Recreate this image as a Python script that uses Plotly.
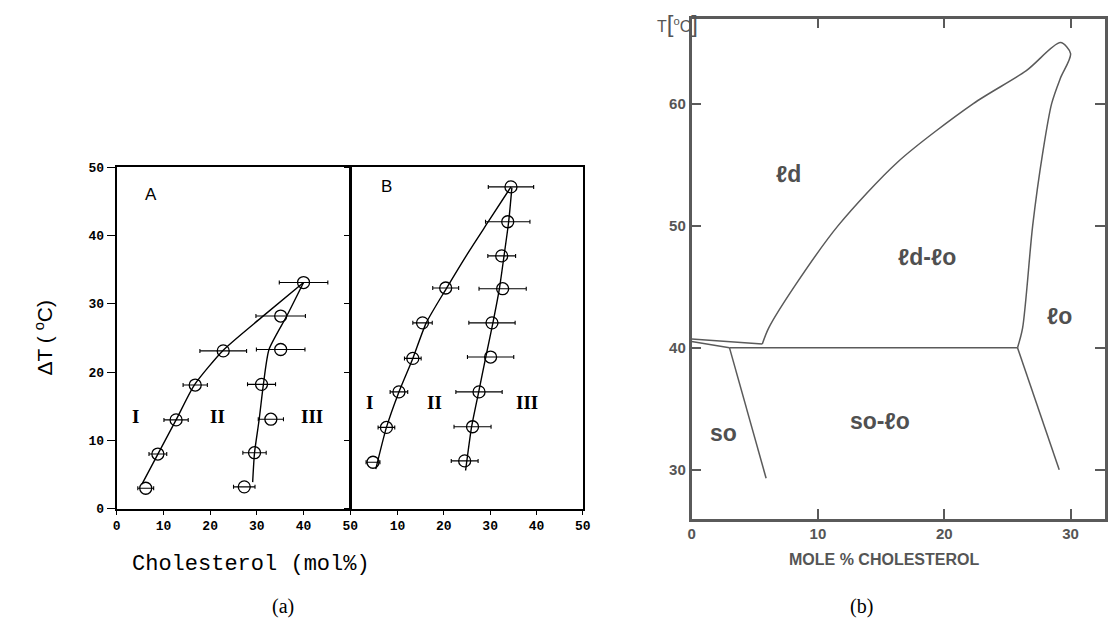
import plotly.graph_objects as go

# ---------------- Panel (a) A ----------------
a_left_x = [6.2, 8.8, 12.7, 16.8, 22.8, 40.0]
a_left_y = [3.0, 8.0, 13.0, 18.1, 23.1, 33.1]
a_left_err = [1.7, 1.9, 2.6, 2.6, 5.0, 5.2]
a_right_x = [27.3, 29.5, 33.0, 31.0, 35.1, 35.1]
a_right_y = [3.2, 8.2, 13.1, 18.2, 23.3, 28.2]
a_right_err = [2.3, 2.5, 2.7, 3.0, 5.2, 5.3]
a_left_line_x = [5.4, 8.8, 12.7, 16.6, 22.8, 31.0, 40.0]
a_left_line_y = [3.6, 8.0, 13.0, 18.1, 23.2, 28.0, 33.1]
a_right_line_x = [29.1, 29.5, 30.5, 31.4, 32.6, 36.4, 40.0]
a_right_line_y = [3.9, 8.2, 13.1, 18.2, 23.3, 28.2, 33.1]

# ---------------- Panel (a) B ----------------
b_left_x = [4.7, 7.6, 10.3, 13.3, 15.4, 20.4, 34.5]
b_left_y = [6.8, 11.9, 17.1, 22.0, 27.2, 32.3, 47.1]
b_left_err = [1.5, 1.8, 1.9, 1.8, 2.1, 2.8, 4.9]
b_right_x = [24.5, 26.2, 27.6, 30.1, 30.4, 32.7, 32.5, 33.8]
b_right_y = [7.0, 12.0, 17.1, 22.2, 27.2, 32.2, 37.0, 42.0]
b_right_err = [2.9, 4.0, 5.0, 5.0, 5.0, 5.1, 3.0, 4.8]
b_left_line_x = [5.3, 7.6, 10.3, 13.3, 16.2, 20.6, 25.0, 29.6, 34.5]
b_left_line_y = [5.8, 11.9, 17.1, 22.0, 27.2, 32.3, 37.2, 42.0, 47.1]
b_right_line_x = [24.7, 26.0, 27.5, 29.0, 30.6, 32.0, 33.0, 34.0, 34.7]
b_right_line_y = [5.6, 12.0, 17.0, 22.0, 27.2, 32.2, 37.0, 42.0, 47.0]

# ---------------- Panel (b) phase diagram ----------------
loop_x = [5.6, 6.1, 8.2, 11.6, 16.3, 22.3, 26.5, 29.2, 30.0, 29.2, 28.5, 27.8, 27.0, 26.2, 25.8]
loop_y = [40.3, 41.6, 45.1, 50.0, 55.2, 60.0, 62.7, 65.0, 64.1, 62.1, 60.0, 56.0, 50.0, 41.6, 40.0]
wedge1_x = [0.0, 5.6]
wedge1_y = [40.7, 40.3]
wedge2_x = [0.0, 3.0]
wedge2_y = [40.5, 40.0]
tie_x = [3.0, 25.8]
tie_y = [40.0, 40.0]
so_x = [3.0, 5.9]
so_y = [40.0, 29.3]
lo_x = [25.8, 29.1]
lo_y = [40.0, 30.0]

BLACK = "black"
GRAY = "#5a5a5a"

fig = go.Figure()

def pts(x, y, err, xa, ya):
    fig.add_trace(go.Scatter(
        x=x, y=y, mode="markers", xaxis=xa, yaxis=ya,
        marker=dict(symbol="circle-open", size=12, color=BLACK, line=dict(width=1.3, color=BLACK)),
        error_x=dict(type="data", array=err, color=BLACK, thickness=1.1, width=2),
        showlegend=False, hoverinfo="skip"))

def curve(x, y, xa, ya, color=BLACK, w=1.4, shape="spline", sm=0.6):
    fig.add_trace(go.Scatter(
        x=x, y=y, mode="lines", xaxis=xa, yaxis=ya,
        line=dict(color=color, width=w, shape=shape, smoothing=sm),
        showlegend=False, hoverinfo="skip"))

curve(a_left_line_x, a_left_line_y, "x", "y")
curve(a_right_line_x, a_right_line_y, "x", "y")
pts(a_left_x, a_left_y, a_left_err, "x", "y")
pts(a_right_x, a_right_y, a_right_err, "x", "y")

curve(b_left_line_x, b_left_line_y, "x2", "y2")
curve(b_right_line_x, b_right_line_y, "x2", "y2")
pts(b_left_x, b_left_y, b_left_err, "x2", "y2")
pts(b_right_x, b_right_y, b_right_err, "x2", "y2")

curve(loop_x, loop_y, "x3", "y3", GRAY, 1.5, "spline", 0.8)
for xs, ys in [(wedge1_x, wedge1_y), (wedge2_x, wedge2_y), (tie_x, tie_y), (so_x, so_y), (lo_x, lo_y)]:
    curve(xs, ys, "x3", "y3", GRAY, 1.5, "linear")

W, H = 1120, 630
def fx(px):
    return min(1.0, max(0.0, px / W))
def fy(py):
    return min(1.0, max(0.0, 1 - py / H))
def dx(a, b):
    return [fx(a), fx(b)]
def dy(top, bot):
    return [fy(bot), fy(top)]

monofont = dict(family="Liberation Mono", size=13, color=BLACK)
ax_common = dict(showgrid=False, zeroline=False, showline=True, linecolor=BLACK, linewidth=2, mirror=True)
gtick = dict(family="Liberation Sans", size=15, color="#555555")

fig.update_layout(
    width=W, height=H, margin=dict(l=0, r=0, t=0, b=0),
    paper_bgcolor="white", plot_bgcolor="rgba(0,0,0,0)",
    xaxis=dict(domain=dx(114, 350), range=[0, 50], tickvals=[0, 10, 20, 30, 40, 50],
               ticktext=["<b>%d</b>" % v for v in [0, 10, 20, 30, 40, 50]],
               ticks="outside", ticklen=4, tickcolor=BLACK, tickfont=monofont, anchor="y", **ax_common),
    yaxis=dict(domain=dy(165, 515), range=[0, 50], tickvals=[0, 10, 20, 30, 40, 50],
               ticktext=["<b>%d</b>" % v for v in [0, 10, 20, 30, 40, 50]],
               ticks="outside", ticklen=8, tickcolor=BLACK, tickfont=monofont, anchor="x", **ax_common),
    xaxis2=dict(domain=dx(351, 585), range=[0, 50], tickvals=[10, 20, 30, 40, 50],
                ticktext=["<b>%d</b>" % v for v in [10, 20, 30, 40, 50]],
                ticks="outside", ticklen=4, tickcolor=BLACK, tickfont=monofont, anchor="y2", **ax_common),
    yaxis2=dict(domain=dy(165, 515), range=[0, 50], tickvals=[0, 10, 20, 30, 40, 50],
                ticks="outside", ticklen=5, tickcolor=BLACK, showticklabels=False, anchor="x2", **ax_common),
    xaxis3=dict(domain=dx(695, 1113), range=[0, 32.73], tickvals=[0, 10, 20, 30],
                ticktext=["<b>%d</b>" % v for v in [0, 10, 20, 30]],
                ticks="inside", ticklen=10, tickcolor=GRAY, tickwidth=1.5, tickfont=gtick,
                showgrid=False, zeroline=False, showline=True, linecolor=GRAY, linewidth=2.5,
                mirror="ticks", anchor="y3"),
    yaxis3=dict(domain=dy(13, 525), range=[26, 66.96], tickvals=[30, 40, 50, 60],
                ticktext=["<b>%d</b>" % v for v in [30, 40, 50, 60]],
                ticks="inside", ticklen=10, tickcolor=GRAY, tickwidth=1.5, tickfont=gtick,
                showgrid=False, zeroline=False, showline=True, linecolor=GRAY, linewidth=2.5,
                mirror="ticks", anchor="x3"),
)

ann = []
def A(text, x, y, xref, yref, font, **kw):
    ann.append(dict(text=text, x=x, y=y, xref=xref, yref=yref, showarrow=False, font=font,
                    xanchor="center", yanchor="middle", **kw))

serif_b = dict(family="Liberation Serif", size=19, color=BLACK)
A("<b>I</b>", 4.0, 13.5, "x", "y", serif_b)
A("<b>II</b>", 21.5, 13.5, "x", "y", serif_b)
A("<b>III</b>", 41.8, 13.5, "x", "y", serif_b)
A("<b>I</b>", 4.0, 15.5, "x2", "y2", serif_b)
A("<b>II</b>", 17.9, 15.5, "x2", "y2", serif_b)
A("<b>III</b>", 38.0, 15.5, "x2", "y2", serif_b)
A("A", 7.3, 46.0, "x", "y", dict(family="Liberation Sans", size=17, color=BLACK))
A("B", 7.7, 47.2, "x2", "y2", dict(family="Liberation Sans", size=17, color=BLACK))

A("Cholesterol (mol%)", fx(250), fy(572), "paper", "paper", dict(family="Liberation Mono", size=22, color=BLACK))
A("ΔT ( <sup>o</sup>C)", fx(40), fy(340), "paper", "paper", dict(family="Liberation Sans", size=21, color=BLACK), textangle=-90)
A("(a)", fx(282), fy(615), "paper", "paper", dict(family="Liberation Serif", size=20, color=BLACK))
A("(b)", fx(867), fy(615), "paper", "paper", dict(family="Liberation Serif", size=20, color=BLACK))

gfont = dict(family="Liberation Sans", size=23, color="#505050")
A("<b>ℓd</b>", 7.7, 54.2, "x3", "y3", gfont)
A("<b>ℓd-ℓo</b>", 18.6, 47.4, "x3", "y3", gfont)
A("<b>ℓo</b>", 29.1, 42.6, "x3", "y3", gfont)
A("<b>so</b>", 2.5, 33.0, "x3", "y3", gfont)
A("<b>so-ℓo</b>", 14.9, 34.0, "x3", "y3", gfont)
A("<b>MOLE % CHOLESTEROL</b>", fx(890), fy(567), "paper", "paper", dict(family="Liberation Sans", size=16, color="#555555"))
A("T<span style='font-size:24px'>[</span><sup>o</sup>C<span style='font-size:24px'>]</span>", fx(681), fy(18), "paper", "paper",
  dict(family="Liberation Sans", size=16, color="#555555"))

fig.update_layout(annotations=ann)
fig.write_html("out.html")
